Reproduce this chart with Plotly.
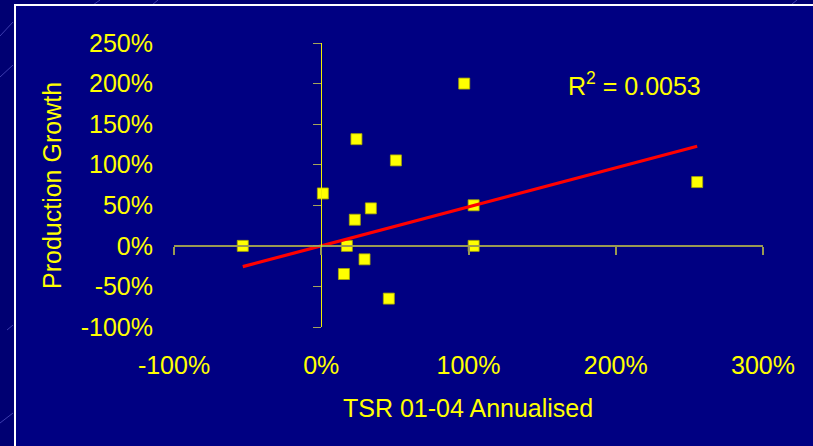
import numpy as np
import plotly.graph_objects as go

# TSR 2001-04 annualised vs production growth (fractions, 1.0 = 100%)
tsr = [-0.533, 0.011, 0.239, 0.507, 0.337, 0.228, 0.174, 0.294, 0.154, 0.459,
       0.971, 1.035, 1.035, 2.553]
growth = [0.0, 0.646, 1.315, 1.053, 0.462, 0.322, 0.0, -0.166, -0.347, -0.650,
          2.0, 0.50, 0.0, 0.786]
r_squared = "0.0053"

x_tick_vals = [-1, 0, 1, 2, 3]
x_tick_text = ["-100%", "0%", "100%", "200%", "300%"]
y_tick_vals = [-1, -0.5, 0, 0.5, 1, 1.5, 2, 2.5]
y_tick_text = ["-100%", "-50%", "0%", "50%", "100%", "150%", "200%", "250%"]

# Linear trend through the origin (least squares)
xa = np.array(tsr)
ya = np.array(growth)
slope = float((xa * ya).sum() / (xa * xa).sum())
trend_x = [float(xa.min()), float(xa.max())]
trend_y = [slope * v for v in trend_x]

W, H = 813, 446
ML, MR, MT, MB = 174, 50, 43, 119
PW, PH = W - ML - MR, H - MT - MB


def px(x):
    return (x - ML) / PW


def py(y):
    return (H - MB - y) / PH


FONT = "Liberation Sans, Arial, sans-serif"
YELLOW = "#ffff00"
OUTER_BG = "#000072"
INNER_BG = "#000082"
FS = 25

fig = go.Figure()

# trend line lives on the origin-crossing axes so they get drawn
fig.add_trace(go.Scatter(
    x=trend_x, y=trend_y, mode="lines", xaxis="x2", yaxis="y2",
    line=dict(color="#ff0000", width=3.2),
    hoverinfo="skip", showlegend=False,
))
fig.add_trace(go.Scatter(
    x=tsr, y=growth, mode="markers",
    marker=dict(symbol="square", size=11, color=YELLOW,
                line=dict(color="#a8a800", width=0.8)),
    showlegend=False,
))

# faint background streaks in the slide margin, then the framed chart area
streaks = [
    ((0, 36), (13, 22)), ((0, 77), (13, 65)), ((93, 5), (100, 0)),
    ((152, 5), (158, 0)), ((792, 4), (797, 0)), ((7, 330), (13, 325)),
    ((0, 423), (13, 413)),
]
shapes = []
for (x0, y0), (x1, y1) in streaks:
    shapes.append(dict(type="line", xref="paper", yref="paper",
                       x0=px(x0), y0=py(y0), x1=px(x1), y1=py(y1),
                       line=dict(color="#3c3cae", width=1), layer="below"))
shapes.append(dict(type="rect", xref="paper", yref="paper",
                   x0=px(15), y0=py(520), x1=px(900), y1=py(5),
                   fillcolor=INNER_BG, line=dict(color="#ffffff", width=2),
                   layer="below"))

fig.update_layout(
    width=W, height=H,
    margin=dict(l=ML, r=MR, t=MT, b=MB, pad=0),
    paper_bgcolor=OUTER_BG,
    plot_bgcolor="rgba(0,0,0,0)",
    font=dict(family=FONT, color=YELLOW, size=FS),
    shapes=shapes,
    xaxis=dict(
        range=[-1, 3], tickvals=x_tick_vals, ticktext=x_tick_text,
        showgrid=False, zeroline=False, showline=False, ticks="",
        tickfont=dict(size=FS, color=YELLOW), ticklabelstandoff=21,
        fixedrange=True,
    ),
    yaxis=dict(
        range=[-1, 2.5], tickvals=y_tick_vals, ticktext=y_tick_text,
        showgrid=False, zeroline=False, showline=False, ticks="",
        tickfont=dict(size=FS, color=YELLOW), ticklabelstandoff=20,
        fixedrange=True,
    ),
    # axis lines crossing at the origin
    xaxis2=dict(
        overlaying="x", anchor="free", position=1 / 3.5, range=[-1, 3],
        tickvals=x_tick_vals, showticklabels=False, showgrid=False,
        zeroline=False, showline=True, linecolor="#9a9a52", linewidth=1.6,
        ticks="outside", ticklen=8, tickwidth=1.6, tickcolor="#9a9a52",
        fixedrange=True,
    ),
    yaxis2=dict(
        overlaying="y", anchor="free", position=0.25, range=[-1, 2.5],
        tickvals=y_tick_vals, showticklabels=False, showgrid=False,
        zeroline=False, showline=True, linecolor="#f0f000", linewidth=1.4,
        ticks="outside", ticklen=8, tickwidth=1.4, tickcolor="#a4a45a",
        fixedrange=True,
    ),
    annotations=[
        dict(text="Production Growth", xref="paper", yref="paper",
             x=px(52), y=py(186), textangle=-90, showarrow=False,
             font=dict(size=FS, color=YELLOW), xanchor="center", yanchor="middle"),
        dict(text="TSR 01-04 Annualised", xref="paper", yref="paper",
             x=px(468), y=py(408), showarrow=False,
             font=dict(size=FS, color=YELLOW), xanchor="center", yanchor="middle"),
        dict(text="R<sup>2</sup> = " + r_squared, xref="paper", yref="paper",
             x=px(566), y=py(84), showarrow=False,
             font=dict(size=FS, color=YELLOW), xanchor="left", yanchor="middle"),
    ],
)

fig.write_html("out.html")
